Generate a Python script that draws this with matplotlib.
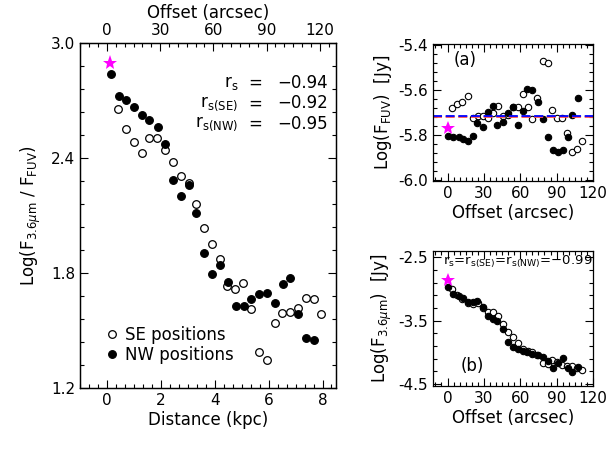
import matplotlib
matplotlib.use("Agg")
import matplotlib.pyplot as plt
from matplotlib.ticker import MultipleLocator, FormatStrFormatter

# ---- left panel: flux ratio vs distance ----
nw_kpc = [0.14, 0.43, 0.72, 1.01, 1.31, 1.58, 1.88, 2.17, 2.46, 2.75, 3.05, 3.32, 3.62, 3.91,
          4.20, 4.49, 4.79, 5.07, 5.36, 5.65, 5.94, 6.23, 6.52, 6.81, 7.10, 7.40, 7.69]
nw_ratio = [2.836, 2.722, 2.700, 2.667, 2.622, 2.600, 2.560, 2.474, 2.285, 2.200, 2.260, 2.112,
            1.905, 1.793, 1.840, 1.755, 1.629, 1.629, 1.664, 1.688, 1.698, 1.646, 1.741, 1.775,
            1.586, 1.462, 1.448]
se_kpc = [0.42, 0.72, 1.00, 1.30, 1.57, 1.86, 2.16, 2.46, 2.74, 3.04, 3.31, 3.60, 3.89, 4.19,
          4.47, 4.77, 5.05, 5.34, 5.64, 5.93, 6.22, 6.51, 6.79, 7.09, 7.38, 7.67, 7.96]
se_ratio = [2.657, 2.553, 2.481, 2.424, 2.503, 2.502, 2.440, 2.379, 2.308, 2.269, 2.162, 2.036,
            1.951, 1.872, 1.731, 1.719, 1.748, 1.614, 1.386, 1.348, 1.537, 1.591, 1.598, 1.617,
            1.672, 1.665, 1.584]
nuc_kpc = 0.12
nuc_ratio = 2.898
kpc_per_arcsec = 0.0658

# ---- right panels: fluxes vs offset ----
nw_off = [0.4, 4.8, 9.1, 13.0, 16.9, 21.3, 24.6, 28.9, 33.4, 37.3, 41.1, 45.5, 49.7, 53.8,
          58.2, 62.1, 65.9, 69.8, 74.3, 78.6, 82.6, 86.9, 91.3, 95.2, 99.0, 103.1, 107.5]
nw_fuv = [-5.803, -5.811, -5.810, -5.818, -5.828, -5.805, -5.745, -5.763, -5.699, -5.669,
          -5.757, -5.742, -5.704, -5.675, -5.757, -5.693, -5.595, -5.598, -5.652, -5.729,
          -5.809, -5.866, -5.877, -5.866, -5.809, -5.711, -5.636]
nw_ir = [-2.963, -3.078, -3.104, -3.146, -3.199, -3.209, -3.183, -3.287, -3.424, -3.476,
         -3.498, -3.629, -3.829, -3.917, -3.944, -3.971, -3.996, -4.023, -4.039, -4.075,
         -4.133, -4.248, -4.169, -4.091, -4.248, -4.302, -4.223]
se_off = [4.0, 8.2, 12.3, 16.6, 20.8, 24.9, 28.9, 33.2, 37.3, 41.3, 45.4, 49.6, 53.7, 57.8,
          61.9, 66.0, 70.1, 74.2, 78.4, 82.5, 86.6, 90.7, 94.8, 98.9, 103.0, 107.1, 111.3]
se_fuv = [-5.681, -5.662, -5.655, -5.626, -5.723, -5.715, -5.714, -5.723, -5.700, -5.672,
          -5.716, -5.712, -5.676, -5.676, -5.618, -5.674, -5.730, -5.634, -5.471, -5.478,
          -5.689, -5.726, -5.726, -5.790, -5.874, -5.864, -5.827]
se_ir = [-3.004, -3.090, -3.160, -3.220, -3.230, -3.225, -3.300, -3.357, -3.357, -3.424,
         -3.555, -3.671, -3.760, -3.855, -3.950, -3.970, -3.990, -4.040, -4.169, -4.190,
         -4.120, -4.150, -4.200, -4.220, -4.220, -4.250, -4.275]
nuc_off = 0.0
nuc_fuv = -5.767
nuc_ir = -2.857
fuv_mean_blue = -5.717
fuv_mean_red = -5.722

FS = 11


def style_axis(ax):
    ax.tick_params(which="both", direction="in", labelsize=FS, width=0.8)
    ax.tick_params(which="major", length=6)
    ax.tick_params(which="minor", length=3)
    for s in ax.spines.values():
        s.set_linewidth(0.9)


fig = plt.figure(figsize=(6.10, 4.53), dpi=100)

# =========================
# left panel
# =========================
ax = fig.add_axes([0.1311, 0.1435, 0.4197, 0.7616])
ax.plot(se_kpc, se_ratio, "o", mfc="white", mec="black", ms=5.5, mew=0.9, label="SE positions")
ax.plot(nw_kpc, nw_ratio, "o", mfc="black", mec="black", ms=5.5, mew=0.9, label="NW positions")
ax.plot(nuc_kpc, nuc_ratio, "*", color="#ff00ff", ms=11, mew=0)
ax.set_xlim(-1.0, 8.5)
ax.set_ylim(1.2, 3.0)
ax.xaxis.set_major_locator(MultipleLocator(2))
ax.xaxis.set_minor_locator(MultipleLocator(1 / 3))
ax.yaxis.set_major_locator(MultipleLocator(0.6))
ax.yaxis.set_minor_locator(MultipleLocator(0.12))
ax.yaxis.set_major_formatter(FormatStrFormatter("%.1f"))
ax.tick_params(which="both", right=True)
style_axis(ax)
ax.set_xlabel("Distance (kpc)", fontsize=12, labelpad=2)
ax.set_ylabel(r"Log(F$_{\mathrm{3.6}\mu\mathrm{m}}$ / F$_\mathrm{FUV}$)", fontsize=12, labelpad=6)
ax.legend(loc="lower left", bbox_to_anchor=(0.06, 0.035), frameon=False, fontsize=12,
          handlelength=0.6, handletextpad=0.5, labelspacing=0.15, borderaxespad=0.3)

# r_s annotations
rs_labels = [r"r$_\mathrm{s}$", r"r$_\mathrm{s(SE)}$", r"r$_\mathrm{s(NW)}$"]
rs_values = ["\u22120.94", "\u22120.92", "\u22120.95"]
for i, (lab, val) in enumerate(zip(rs_labels, rs_values)):
    yy = 0.885 - i * 0.06
    ax.text(0.618, yy, lab, transform=ax.transAxes, ha="right", va="center", fontsize=12)
    ax.text(0.683, yy, "=", transform=ax.transAxes, ha="center", va="center", fontsize=12)
    ax.text(0.97, yy, val, transform=ax.transAxes, ha="right", va="center", fontsize=12)

top = ax.twiny()
top.set_xlim(-1.0 / kpc_per_arcsec, 8.5 / kpc_per_arcsec)
top.xaxis.set_major_locator(MultipleLocator(30))
top.xaxis.set_minor_locator(MultipleLocator(5))
style_axis(top)
top.set_xlabel("Offset (arcsec)", fontsize=12, labelpad=4)

# =========================
# panel (a): FUV
# =========================
axa = fig.add_axes([0.7098, 0.6004, 0.2623, 0.3024])
axa.plot(se_off, se_fuv, "o", mfc="white", mec="black", ms=4.6, mew=0.8)
axa.plot(nw_off, nw_fuv, "o", mfc="black", mec="black", ms=4.6, mew=0.8)
axa.plot(nuc_off, nuc_fuv, "*", color="#ff00ff", ms=10, mew=0)
axa.axhline(fuv_mean_red, color="#ff5050", ls=(0, (5, 2)), lw=1.3)
axa.axhline(fuv_mean_blue, color="#0000ff", ls=(0, (5, 2)), lw=1.3)
axa.set_xlim(-12, 120)
axa.set_ylim(-6.005, -5.395)
axa.xaxis.set_major_locator(MultipleLocator(30))
axa.xaxis.set_minor_locator(MultipleLocator(5))
axa.yaxis.set_major_locator(MultipleLocator(0.2))
axa.yaxis.set_minor_locator(MultipleLocator(0.04))
axa.yaxis.set_major_formatter(FormatStrFormatter("%.1f"))
axa.tick_params(which="both", top=True, right=True)
style_axis(axa)
axa.set_xlabel("Offset (arcsec)", fontsize=12, labelpad=2)
axa.set_ylabel(r"Log(F$_\mathrm{FUV}$)  [Jy]", fontsize=12, labelpad=3)
axa.text(0.13, 0.88, "(a)", transform=axa.transAxes, fontsize=12, ha="left", va="center")

# =========================
# panel (b): 3.6 micron
# =========================
axb = fig.add_axes([0.7098, 0.1479, 0.2623, 0.298])
axb.plot(se_off, se_ir, "o", mfc="white", mec="black", ms=4.6, mew=0.8)
axb.plot(nw_off, nw_ir, "o", mfc="black", mec="black", ms=4.6, mew=0.8)
axb.plot(nuc_off, nuc_ir, "*", color="#ff00ff", ms=10, mew=0)
axb.set_xlim(-12, 120)
axb.set_ylim(-4.53, -2.4)
axb.xaxis.set_major_locator(MultipleLocator(30))
axb.xaxis.set_minor_locator(MultipleLocator(5))
axb.yaxis.set_major_locator(MultipleLocator(1.0, offset=0.5))
axb.yaxis.set_minor_locator(MultipleLocator(0.2, offset=0.1))
axb.yaxis.set_major_formatter(FormatStrFormatter("%.1f"))
axb.tick_params(which="both", top=True, right=True)
style_axis(axb)
axb.set_xlabel("Offset (arcsec)", fontsize=12, labelpad=2)
axb.set_ylabel(r"Log(F$_{\mathrm{3.6}\mu\mathrm{m}}$)  [Jy]", fontsize=12, labelpad=3)
axb.text(0.53, 0.92,
         r"r$_\mathrm{s}$=r$_\mathrm{s(SE)}$=r$_\mathrm{s(NW)}$=$-$0.99",
         transform=axb.transAxes, fontsize=9.5, ha="center", va="center")
axb.text(0.17, 0.15, "(b)", transform=axb.transAxes, fontsize=12, ha="left", va="center")

fig.savefig("out.png", dpi=100)
